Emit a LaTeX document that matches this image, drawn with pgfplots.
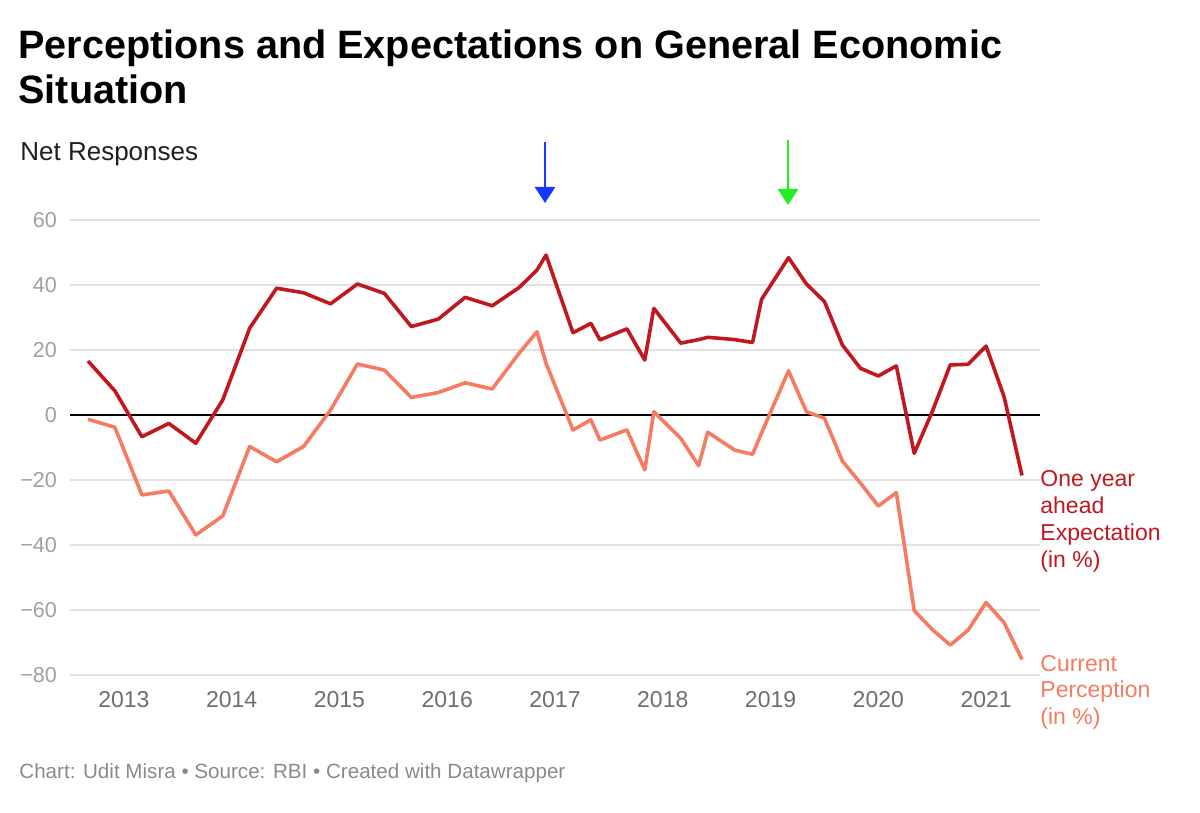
\documentclass[border=0pt]{standalone}
\usepackage{pgfplots}
\pgfplotsset{compat=1.18}
\usepackage{fontspec}
\setmainfont{Liberation Sans}
\usetikzlibrary{arrows.meta}
\definecolor{expred}{HTML}{C0181F}
\definecolor{cursal}{HTML}{F57B62}
\definecolor{gridg}{HTML}{E2E2E2}
\definecolor{ylab}{HTML}{A0A0A0}
\definecolor{xlab}{HTML}{6E6E6E}
\definecolor{foot}{HTML}{8A8A8A}
\definecolor{arrblue}{HTML}{1438FF}
\definecolor{arrgreen}{HTML}{22EE22}
\begin{document}
\begin{tikzpicture}
\path[use as bounding box] (0,0) rectangle (600pt,406.5pt);
% title
\node[anchor=base west, inner sep=0, font=\bfseries\fontsize{19.8}{24}\selectfont] at (9pt,377pt) {Perceptions and Expectations on General Economic};
\node[anchor=base west, inner sep=0, font=\bfseries\fontsize{19.8}{24}\selectfont] at (9pt,354.5pt) {Situation};
\node[anchor=base west, inner sep=0, font=\fontsize{13}{15}\selectfont, text=black!88] at (10pt,326pt) {Net Responses};
\begin{axis}[
  at={(35pt,69pt)}, anchor=south west,
  scale only axis, width=485pt, height=227.5pt,
  xmin=2012.5, xmax=2021.5, ymin=-80, ymax=60,
  axis line style={draw=none}, tick style={draw=none},
  xtick={2013,2014,2015,2016,2017,2018,2019,2020,2021},
  xticklabels={2013,2014,2015,2016,2017,2018,2019,2020,2021},
  ytick={-80,-60,-40,-20,0,20,40,60},
  yticklabels={−80,−60,−40,−20,0,20,40,60},
  ymajorgrids, grid style={gridg, line width=0.7pt},
  extra y ticks={0}, extra y tick labels={},
  extra y tick style={grid style={black, line width=0.9pt}},
  xticklabel style={anchor=base, yshift=-16.5pt, font=\fontsize{11.5}{13}\selectfont, text=xlab},
  yticklabel style={anchor=east, xshift=-3pt, font=\fontsize{10.8}{13}\selectfont, text=ylab},
  clip=false,
]
\addplot[cursal, line width=1.8pt, line join=round] coordinates {
(2012.667,-1.3)(2012.917,-3.8)(2013.167,-24.6)(2013.417,-23.4)(2013.667,-36.9)(2013.917,-31.1)
(2014.167,-9.7)(2014.417,-14.4)(2014.667,-9.7)(2014.917,1.5)(2015.167,15.7)(2015.417,13.8)
(2015.667,5.4)(2015.917,6.9)(2016.167,9.9)(2016.417,8.0)(2016.667,19.0)(2016.833,25.6)
(2016.917,15.9)(2017.167,-4.6)(2017.333,-1.5)(2017.417,-7.7)(2017.667,-4.6)(2017.833,-16.9)
(2017.917,1.0)(2018.167,-7.2)(2018.333,-15.6)(2018.417,-5.3)(2018.667,-10.8)(2018.833,-12.1)
(2018.917,-5.5)(2019.167,13.6)(2019.333,1.0)(2019.5,-1.0)(2019.667,-14.2)(2019.833,-20.9)
(2020.0,-28.0)(2020.167,-23.9)(2020.333,-60.2)(2020.5,-66.0)(2020.667,-70.8)(2020.833,-66.2)
(2021.0,-57.7)(2021.167,-63.9)(2021.333,-75.2)
};
\addplot[expred, line width=1.8pt, line join=round] coordinates {
(2012.667,16.6)(2012.917,7.4)(2013.167,-6.7)(2013.417,-2.6)(2013.667,-8.7)(2013.917,4.6)
(2014.167,26.7)(2014.417,39.0)(2014.667,37.6)(2014.917,34.2)(2015.167,40.3)(2015.417,37.4)
(2015.667,27.2)(2015.917,29.5)(2016.167,36.2)(2016.417,33.6)(2016.667,39.2)(2016.833,44.6)
(2016.917,49.2)(2017.167,25.3)(2017.333,28.2)(2017.417,23.1)(2017.667,26.5)(2017.833,16.9)
(2017.917,32.8)(2018.167,22.1)(2018.333,23.2)(2018.417,23.9)(2018.667,23.2)(2018.833,22.3)
(2018.917,35.6)(2019.167,48.4)(2019.333,40.3)(2019.5,34.9)(2019.667,21.5)(2019.833,14.4)
(2020.0,12.0)(2020.167,15.1)(2020.333,-11.8)(2020.5,1.0)(2020.667,15.4)(2020.833,15.6)
(2021.0,21.2)(2021.167,5.6)(2021.333,-18.6)
};
\end{axis}
% arrows
\draw[arrblue, line width=1.3pt, -{Triangle[width=10pt,length=8pt]}] (272.5pt,335.5pt) -- (272.5pt,305pt);
\draw[arrgreen, line width=1.3pt, -{Triangle[width=10pt,length=8pt]}] (394pt,336.5pt) -- (394pt,304pt);
% right labels
\begin{scope}[every node/.style={anchor=base west, inner sep=0, font=\fontsize{11.5}{13}\selectfont}]
\node[text=expred] at (520pt,163pt) {One year};
\node[text=expred] at (520pt,149.5pt) {ahead};
\node[text=expred] at (520pt,136pt) {Expectation};
\node[text=expred] at (520pt,122.5pt) {(in \%)};
\node[text=cursal] at (520pt,70.5pt) {Current};
\node[text=cursal] at (520pt,57.5pt) {Perception};
\node[text=cursal] at (520pt,44pt) {(in \%)};
\end{scope}
% footer
\node[anchor=base west, inner sep=0, font=\fontsize{10.3}{12}\selectfont, text=foot] at (9.5pt,17pt) {Chart: Udit Misra • Source: RBI • Created with Datawrapper};
\end{tikzpicture}
\end{document}
